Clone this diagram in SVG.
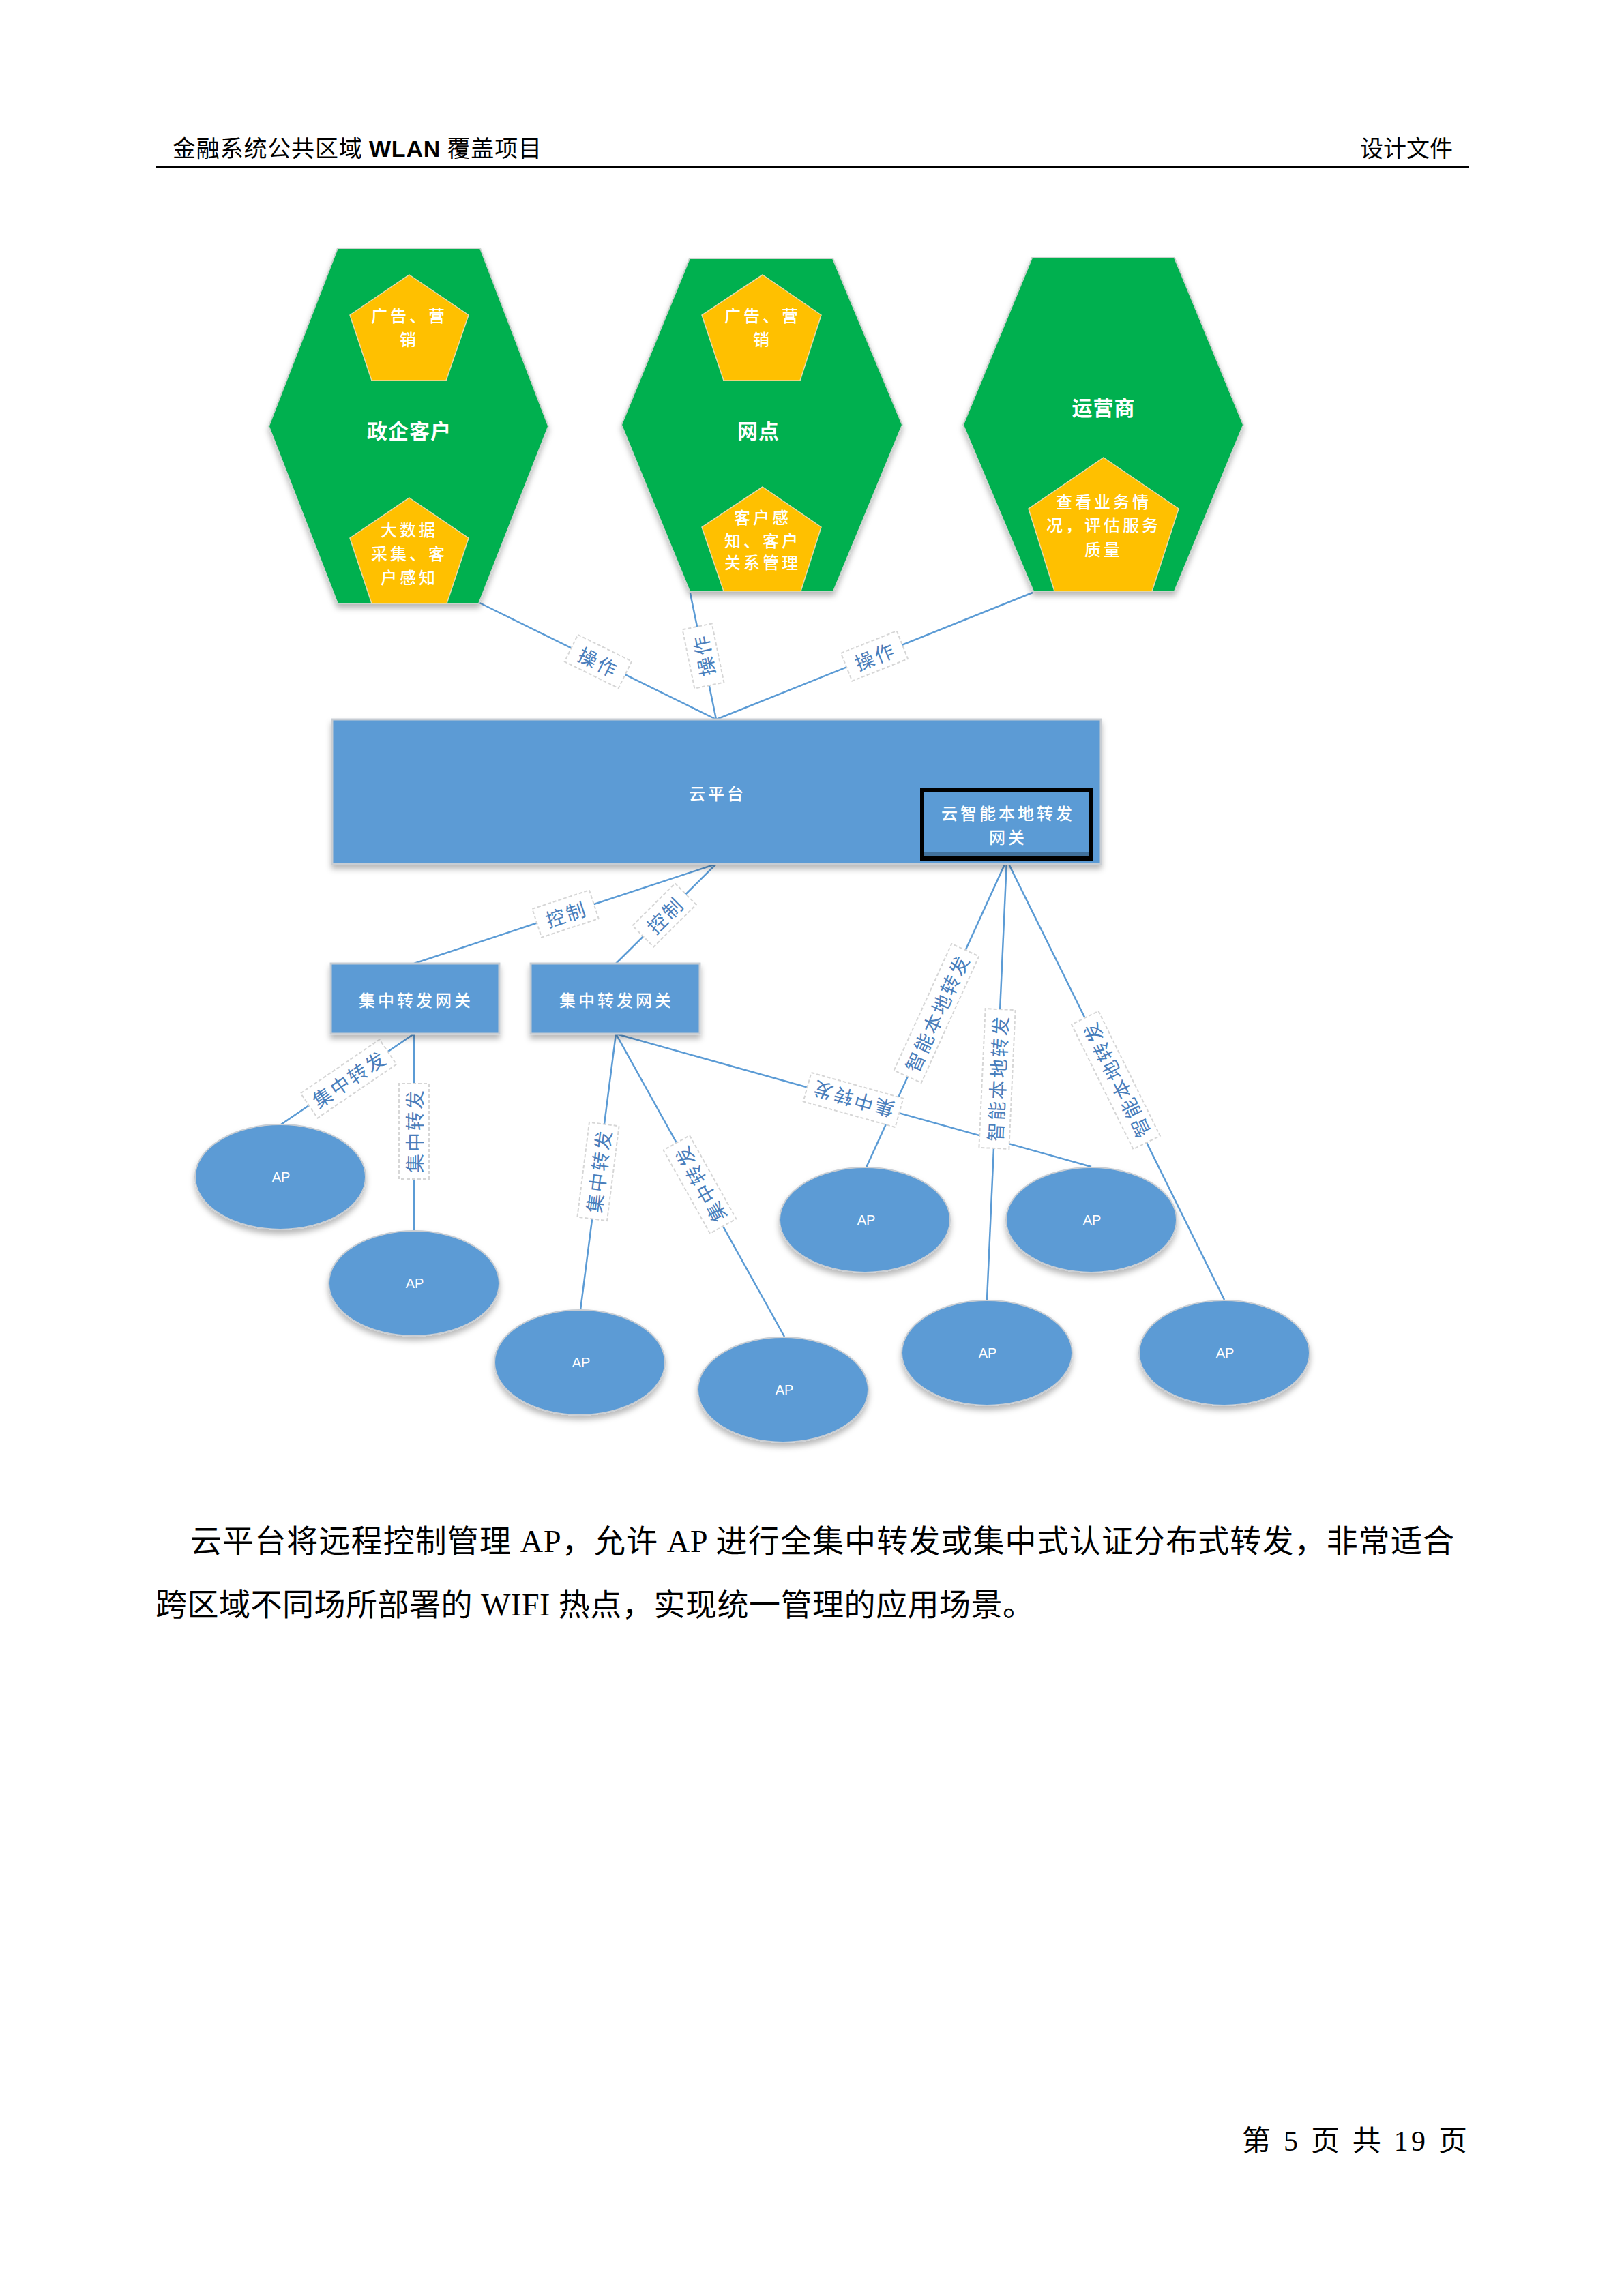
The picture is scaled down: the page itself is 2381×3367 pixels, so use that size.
<svg xmlns="http://www.w3.org/2000/svg" width="2381" height="3367" viewBox="0 0 2381 3367">
<defs>
<filter id="sh" x="-10%" y="-10%" width="120%" height="125%">
<feDropShadow dx="0" dy="6" stdDeviation="4" flood-color="#000" flood-opacity="0.28"/>
</filter>
</defs>
<style>
.hex{fill:#00B050;stroke:#C9D3CC;stroke-width:2}
.pent{fill:#FFC000;stroke:#E8D9A8;stroke-width:1.5}
.blue{fill:#5B9BD5;stroke:#C8CDD3;stroke-width:3}
.ap{fill:#5B9BD5;stroke:#C8CDD3;stroke-width:2}
.wt{fill:#FFFFFF;font-family:"Noto Sans CJK SC","Liberation Sans",sans-serif;font-size:24px;font-weight:500;letter-spacing:4px;text-anchor:middle;dominant-baseline:central}
.big{font-size:30px;font-weight:bold;letter-spacing:1px}
.apt{fill:#FFFFFF;font-family:"Liberation Sans",sans-serif;font-size:20px;text-anchor:middle;dominant-baseline:central}
.ln{stroke:#5B9BD5;stroke-width:2.5;fill:none}
.lb rect{fill:#FFFFFF;stroke:#D6D6D6;stroke-width:2;stroke-dasharray:5 3}
.lb text{fill:#4A7EBB;font-family:"Noto Sans CJK SC",sans-serif;font-size:28px;letter-spacing:3px;text-anchor:middle;dominant-baseline:central}
.doc{fill:#000;font-family:"Liberation Serif","Noto Sans CJK SC",serif}
</style>
<rect width="2381" height="3367" fill="#FFFFFF"/>

<g id="header">
<text class="doc" x="253" y="230" font-size="34" textLength="541" font-family="Noto Sans CJK SC, sans-serif">金融系统公共区域 <tspan font-family="Liberation Sans" font-weight="bold">WLAN</tspan> 覆盖项目</text>
<text class="doc" x="2130" y="230" font-size="34" text-anchor="end" font-family="Noto Sans CJK SC, sans-serif">设计文件</text>
<rect x="228" y="244" width="1926" height="3" fill="#000"/>
</g>

<g id="connectors">
<line class="ln" x1="703" y1="884" x2="1050" y2="1055"/>
<line class="ln" x1="1012" y1="870" x2="1050" y2="1055"/>
<line class="ln" x1="1514" y1="869" x2="1050" y2="1055"/>
<line class="ln" x1="1050" y1="1267" x2="607" y2="1413"/>
<line class="ln" x1="1050" y1="1267" x2="903" y2="1413"/>
<line class="ln" x1="607" y1="1516" x2="412" y2="1649"/>
<line class="ln" x1="607" y1="1516" x2="607" y2="1805"/>
<line class="ln" x1="903" y1="1516" x2="851" y2="1921"/>
<line class="ln" x1="903" y1="1516" x2="1150" y2="1960"/>
<line class="ln" x1="903" y1="1516" x2="1600" y2="1711"/>
<line class="ln" x1="1476" y1="1261" x2="1270" y2="1712"/>
<line class="ln" x1="1476" y1="1261" x2="1447" y2="1906"/>
<line class="ln" x1="1476" y1="1261" x2="1795" y2="1906"/>
<g class="lb" transform="translate(877,970) rotate(26.2)"><rect x="-44" y="-22" width="88" height="44"/><text x="1" y="0">操作</text></g>
<g class="lb" transform="translate(1031,962) rotate(-101.6)"><rect x="-44" y="-22" width="88" height="44"/><text x="1" y="0">操作</text></g>
<g class="lb" transform="translate(1282,962) rotate(-21.7)"><rect x="-44" y="-22" width="88" height="44"/><text x="1" y="0">操作</text></g>
<g class="lb" transform="translate(829,1340) rotate(-18.2)"><rect x="-44" y="-22" width="88" height="44"/><text x="1" y="0">控制</text></g>
<g class="lb" transform="translate(974,1342) rotate(-44.8)"><rect x="-44" y="-22" width="88" height="44"/><text x="1" y="0">控制</text></g>
<g class="lb" transform="translate(511,1582) rotate(-34.3)"><rect x="-70" y="-22" width="140" height="44"/><text x="1" y="0">集中转发</text></g>
<g class="lb" transform="translate(607,1659) rotate(-90)"><rect x="-70" y="-22" width="140" height="44"/><text x="1" y="0">集中转发</text></g>
<g class="lb" transform="translate(877,1718) rotate(-82.8)"><rect x="-70" y="-22" width="140" height="44"/><text x="1" y="0">集中转发</text></g>
<g class="lb" transform="translate(1026,1737) rotate(-119.2)"><rect x="-70" y="-22" width="140" height="44"/><text x="1" y="0">集中转发</text></g>
<g class="lb" transform="translate(1251,1613) rotate(-164.4)"><rect x="-70" y="-22" width="140" height="44"/><text x="1" y="0">集中转发</text></g>
<g class="lb" transform="translate(1373,1486) rotate(-65.5)"><rect x="-102" y="-22" width="204" height="44"/><text x="1" y="0">智能本地转发</text></g>
<g class="lb" transform="translate(1462,1582) rotate(-87.4)"><rect x="-102" y="-22" width="204" height="44"/><text x="1" y="0">智能本地转发</text></g>
<g class="lb" transform="translate(1636,1584) rotate(-116.3)"><rect x="-102" y="-22" width="204" height="44"/><text x="1" y="0">智能本地转发</text></g>
</g>

<g id="node-zhengqi">
<polygon class="hex" filter="url(#sh)" points="495,364 704,364 804,625 702,885 495,885 394,625"/>
<polygon class="pent" points="600,403 687,462 654,558 545,558 513,462"/>
<text class="wt" x="600" y="461">广告、营</text>
<text class="wt" x="600" y="496">销</text>
<text class="wt big" x="600" y="630">政企客户</text>
<polygon class="pent" points="600,730 687,789 655,885 545,885 513,789"/>
<text class="wt" x="600" y="775">大数据</text>
<text class="wt" x="600" y="810">采集、客</text>
<text class="wt" x="600" y="845">户感知</text>
</g>

<g id="node-wangdian">
<polygon class="hex" filter="url(#sh)" points="1011,379 1221,379 1323,623 1222,867 1011,867 911,623"/>
<polygon class="pent" points="1118,403 1204,462 1173,558 1061,558 1029,462"/>
<text class="wt" x="1118" y="461">广告、营</text>
<text class="wt" x="1118" y="496">销</text>
<text class="wt big" x="1112" y="630">网点</text>
<polygon class="pent" points="1118,714 1204,773 1174,867 1061,867 1029,773"/>
<text class="wt" x="1118" y="757">客户感</text>
<text class="wt" x="1118" y="791">知、客户</text>
<text class="wt" x="1118" y="823">关系管理</text>
</g>

<g id="node-yunying">
<polygon class="hex" filter="url(#sh)" points="1513,378 1722,378 1823,623 1722,867 1515,867 1412,623"/>
<text class="wt big" x="1618" y="596">运营商</text>
<polygon class="pent" points="1618,671 1728,746 1689,867 1546,867 1508,746"/>
<text class="wt" x="1618" y="734">查看业务情</text>
<text class="wt" x="1618" y="768">况，评估服务</text>
<text class="wt" x="1618" y="804">质量</text>
</g>

<g id="node-cloud">
<rect class="blue" filter="url(#sh)" x="487" y="1055" width="1127" height="212"/>
<text class="wt" x="1052" y="1162">云平台</text>
</g>

<g id="node-cloud-gateway">
<rect x="1352" y="1158" width="248" height="101" fill="#5B9BD5" stroke="#000" stroke-width="6"/>
<rect x="1355" y="1250" width="242" height="6" fill="#41719C"/>
<text class="wt" x="1478" y="1191">云智能本地转发</text>
<text class="wt" x="1478" y="1226">网关</text>
</g>

<g id="node-gw1">
<rect class="blue" filter="url(#sh)" x="485" y="1413" width="247" height="103"/>
<text class="wt" x="610" y="1465">集中转发网关</text>
</g>
<g id="node-gw2">
<rect class="blue" filter="url(#sh)" x="778" y="1413" width="248" height="103"/>
<text class="wt" x="904" y="1465">集中转发网关</text>
</g>

<g id="node-ap1"><ellipse class="ap" filter="url(#sh)" cx="411" cy="1726" rx="125" ry="77"/><text class="apt" x="412" y="1726">AP</text></g>
<g id="node-ap2"><ellipse class="ap" filter="url(#sh)" cx="607" cy="1882" rx="125" ry="77"/><text class="apt" x="608" y="1882">AP</text></g>
<g id="node-ap3"><ellipse class="ap" filter="url(#sh)" cx="850" cy="1998" rx="125" ry="77"/><text class="apt" x="852" y="1998">AP</text></g>
<g id="node-ap4"><ellipse class="ap" filter="url(#sh)" cx="1148" cy="2038" rx="125" ry="77"/><text class="apt" x="1150" y="2038">AP</text></g>
<g id="node-ap5"><ellipse class="ap" filter="url(#sh)" cx="1268" cy="1789" rx="125" ry="77"/><text class="apt" x="1270" y="1789">AP</text></g>
<g id="node-ap6"><ellipse class="ap" filter="url(#sh)" cx="1600" cy="1789" rx="125" ry="77"/><text class="apt" x="1601" y="1789">AP</text></g>
<g id="node-ap7"><ellipse class="ap" filter="url(#sh)" cx="1447" cy="1984" rx="125" ry="77"/><text class="apt" x="1448" y="1984">AP</text></g>
<g id="node-ap8"><ellipse class="ap" filter="url(#sh)" cx="1795" cy="1984" rx="125" ry="77"/><text class="apt" x="1796" y="1984">AP</text></g>

<g id="body">
<text class="doc" x="279" y="2276" font-size="46" textLength="1853" lengthAdjust="spacing">云平台将远程控制管理 AP，允许 AP 进行全集中转发或集中式认证分布式转发，非常适合</text>
<text class="doc" x="228" y="2369" font-size="46" textLength="1288" lengthAdjust="spacing">跨区域不同场所部署的 WIFI 热点，实现统一管理的应用场景。</text>
</g>

<g id="footer">
<text class="doc" x="1821" y="3154" font-size="42" textLength="330" lengthAdjust="spacing">第 5 页 共 19 页</text>
</g>
</svg>
